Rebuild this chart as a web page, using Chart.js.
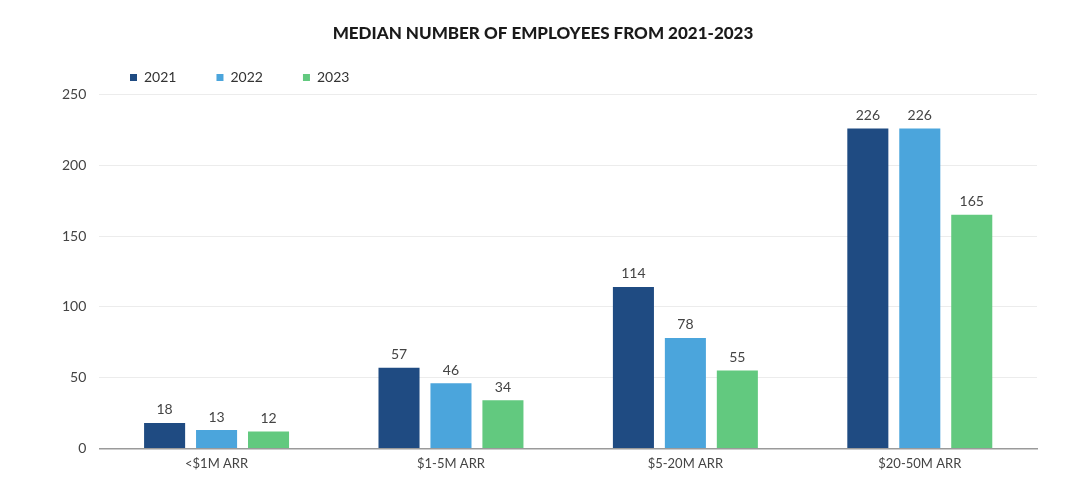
<!DOCTYPE html>
<html>
<head>
<meta charset="utf-8">
<script src="https://cdn.jsdelivr.net/npm/chart.js@4/dist/chart.umd.min.js"></script>
<style>
  html, body { margin: 0; padding: 0; background: #fff; }
  canvas { display: block; }
</style>
</head>
<body>
<canvas id="chart" width="1080" height="504"></canvas>
<script>
const CATEGORIES = ["<$1M ARR", "$1-5M ARR", "$5-20M ARR", "$20-50M ARR"];
const YEARS = ["2021", "2022", "2023"];
const VALUES_2021 = [18, 57, 114, 226];
const VALUES_2022 = [13, 46, 78, 226];
const VALUES_2023 = [12, 34, 55, 165];
const Y_TICKS = [0, 50, 100, 150, 200, 250];

const COLORS = ["#1f4b82", "#4ba5dc", "#62c97f"];
const FONT = "Lato, 'Open Sans', sans-serif";

// escreve o valor em cima de cada barra
const valueLabels = {
  id: "valueLabels",
  afterDatasetsDraw(chart) {
    const ctx = chart.ctx;
    ctx.save();
    ctx.font = "14px " + FONT;
    ctx.fillStyle = "#444";
    ctx.textAlign = "center";
    ctx.textBaseline = "bottom";
    chart.data.datasets.forEach((ds, i) => {
      chart.getDatasetMeta(i).data.forEach((bar, j) => {
        ctx.fillText(ds.data[j], bar.x, bar.y - 6);
      });
    });
    ctx.restore();
  }
};

// empurra a legenda um pouco pra direita, alinhada com as barras
const legendShift = {
  id: "legendShift",
  afterLayout(chart) {
    chart.legend.left += 41;
  }
};

const series = [VALUES_2021, VALUES_2022, VALUES_2023];

new Chart(document.getElementById("chart"), {
  type: "bar",
  data: {
    labels: CATEGORIES,
    datasets: YEARS.map((year, i) => ({
      label: year,
      data: series[i],
      backgroundColor: COLORS[i],
      barPercentage: 0.79,
      categoryPercentage: 0.665
    }))
  },
  plugins: [valueLabels, legendShift],
  options: {
    responsive: false,
    animation: false,
    maintainAspectRatio: false,
    devicePixelRatio: 1,
    layout: { padding: { left: 49, right: 43, top: 23, bottom: 32 } },
    plugins: {
      title: {
        display: true,
        text: "MEDIAN NUMBER OF EMPLOYEES FROM 2021-2023",
        color: "#1a1a1a",
        font: { family: FONT, size: 17, weight: "900" },
        padding: { top: 0, bottom: -13 }
      },
      legend: {
        position: "top",
        align: "start",
        labels: {
          color: "#333",
          font: { family: FONT, size: 14 },
          boxWidth: 7,
          boxHeight: 7,
          padding: 40
        }
      },
      tooltip: { enabled: false }
    },
    scales: {
      x: {
        grid: { display: false },
        border: { display: true, color: "#9a9a9a", width: 1.5 },
        ticks: { color: "#444", font: { family: FONT, size: 13 }, padding: 0, maxRotation: 0 }
      },
      y: {
        min: 0,
        max: Y_TICKS[Y_TICKS.length - 1],
        afterBuildTicks(scale) {
          scale.ticks = Y_TICKS.map(v => ({ value: v }));
        },
        grid: { color: "#ececec", drawTicks: false },
        border: { display: false },
        ticks: { color: "#444", font: { family: FONT, size: 14 }, padding: 13 }
      }
    }
  }
});
</script>
</body>
</html>
